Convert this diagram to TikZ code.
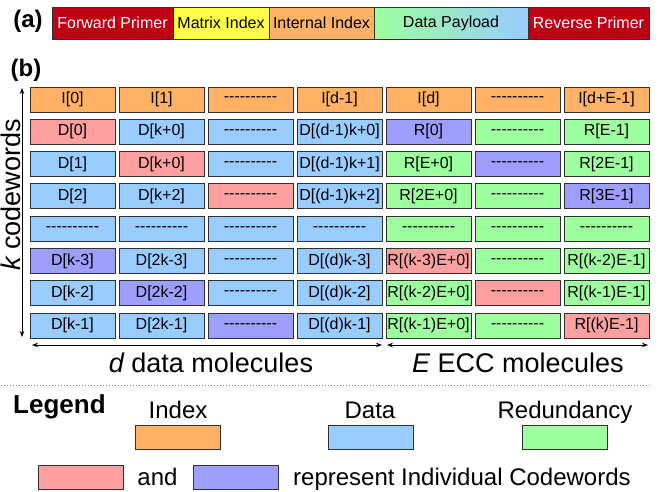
\documentclass[tikz,border=0pt]{standalone}
\usepackage{fontspec}
\setmainfont{Liberation Sans}[Ligatures=TeXOff]
\usetikzlibrary{arrows.meta}

\definecolor{idxc}{HTML}{FFB266}
\definecolor{datc}{HTML}{99CCFF}
\definecolor{redc}{HTML}{FFA0A0}
\definecolor{purc}{HTML}{9E9EFF}
\definecolor{grnc}{HTML}{9EFF9E}
\definecolor{primc}{HTML}{BE0014}
\definecolor{yelc}{HTML}{FFFF4A}
\definecolor{edgec}{HTML}{303030}

\newcommand\setfs[1]{\fontsize{#1}{#1}\selectfont}
\newcommand\dd{----------}

\begin{document}
\begin{tikzpicture}[x=1pt,y=-1pt,
  barseg/.style={draw=edgec, line width=0.9pt, minimum height=32pt, inner sep=0pt, font=\setfs{16}},
  cell/.style={draw=edgec, line width=0.9pt, minimum width=85pt, minimum height=25pt, inner sep=0pt, font=\setfs{16}},
  legbox/.style={draw=edgec, line width=0.9pt, minimum width=85pt, minimum height=24pt, inner sep=0pt},
  legtext/.style={anchor=base, inner sep=0pt, font=\setfs{24}},
  axislbl/.style={anchor=base, inner sep=0pt, font=\setfs{27}},
  dimarrow/.style={line width=0.8pt, {Stealth[length=6pt,width=4.5pt]}-{Stealth[length=6pt,width=4.5pt]}},
  panel/.style={inner sep=0pt, font=\setfs{24}\bfseries}]
\useasboundingbox (0,0) rectangle (662,491);

% (a) strand layout
\node[panel] (pa) at (28,21) {(a)};
\node[barseg, fill=primc, text=white, minimum width=121pt] (fp) at (112.5,23) {Forward Primer};
\node[barseg, fill=yelc, minimum width=96pt] (mi) at (221,23) {Matrix Index};
\node[barseg, fill=idxc, minimum width=105pt] (ii) at (321.5,23) {Internal Index};
\node[barseg, left color=grnc, right color=datc, minimum width=154pt] (dp) at (451,23) {Data Payload};
\node[barseg, fill=primc, text=white, minimum width=121pt] (rp) at (588.5,23) {Reverse Primer};

% (b) codeword matrix
\node[panel] (pb) at (26,70) {(b)};
\foreach \r [count=\j from 0] in {
  {idxc/I[0], idxc/I[1], idxc/\dd, idxc/I[d-1], idxc/I[d], idxc/\dd, idxc/I[d+E-1]},
  {redc/D[0], datc/D[k+0], datc/\dd, datc/D[(d-1)k+0], purc/R[0], grnc/\dd, grnc/R[E-1]},
  {datc/D[1], redc/D[k+0], datc/\dd, datc/D[(d-1)k+1], grnc/R[E+0], purc/\dd, grnc/R[2E-1]},
  {datc/D[2], datc/D[k+2], redc/\dd, datc/D[(d-1)k+2], grnc/R[2E+0], grnc/\dd, purc/R[3E-1]},
  {datc/\dd, datc/\dd, datc/\dd, datc/\dd, grnc/\dd, grnc/\dd, grnc/\dd},
  {purc/D[k-3], datc/D[2k-3], datc/\dd, datc/D[(d)k-3], redc/R[(k-3)E+0], grnc/\dd, grnc/R[(k-2)E-1]},
  {datc/D[k-2], purc/D[2k-2], datc/\dd, datc/D[(d)k-2], grnc/R[(k-2)E+0], redc/\dd, grnc/R[(k-1)E-1]},
  {datc/D[k-1], datc/D[2k-1], purc/\dd, datc/D[(d)k-1], grnc/R[(k-1)E+0], grnc/\dd, redc/R[(k)E-1]}} {
  \foreach \c/\t [count=\i from 0] in \r {
    \node[cell, fill=\c] (c-\j-\i) at ({72.5+89*\i},{99.5+32.3*\j}) {\t};
  }
}

% dimension arrows
\coordinate (vtop) at (22,88);
\coordinate (vbot) at (22,337);
\draw[dimarrow] (vtop) -- (vbot);
\node[axislbl, rotate=90] (klbl) at (20,195) {\itshape k\upshape{} codewords};

\coordinate (dl) at (32,345);
\coordinate (dr) at (382,345);
\coordinate (el) at (387,345);
\coordinate (er) at (648,345);
\draw[dimarrow] (dl) -- (dr);
\draw[dimarrow] (el) -- (er);
\node[axislbl] (dlbl) at (211,372) {\itshape d\upshape{} data molecules};
\node[axislbl] (elbl) at (518,372) {\itshape E\upshape{} ECC molecules};

% separator
\coordinate (sepl) at (1,385);
\coordinate (sepr) at (651,385);
\draw[gray, line width=0.8pt, dash pattern=on 0.9pt off 2.1pt] (sepl) -- (sepr);

% legend
\node[anchor=base west, inner sep=0pt, font=\setfs{26}\bfseries] (leg) at (13,413) {Legend};
\node[legtext] (lidx) at (178,418) {Index};
\node[legtext] (ldat) at (370,418) {Data};
\node[legtext] (lred) at (565,418) {Redundancy};
\node[legbox, fill=idxc] (bidx) at (177.5,437) {};
\node[legbox, fill=datc] (bdat) at (370.5,437) {};
\node[legbox, fill=grnc] (bred) at (564.5,437) {};
\node[legbox, fill=redc] (bcw1) at (80.5,477) {};
\node[legtext] (land) at (157.5,485) {and};
\node[legbox, fill=purc] (bcw2) at (236,477) {};
\node[legtext, anchor=base west] (lrep) at (293,485) {represent Individual Codewords};
\end{tikzpicture}
\end{document}
